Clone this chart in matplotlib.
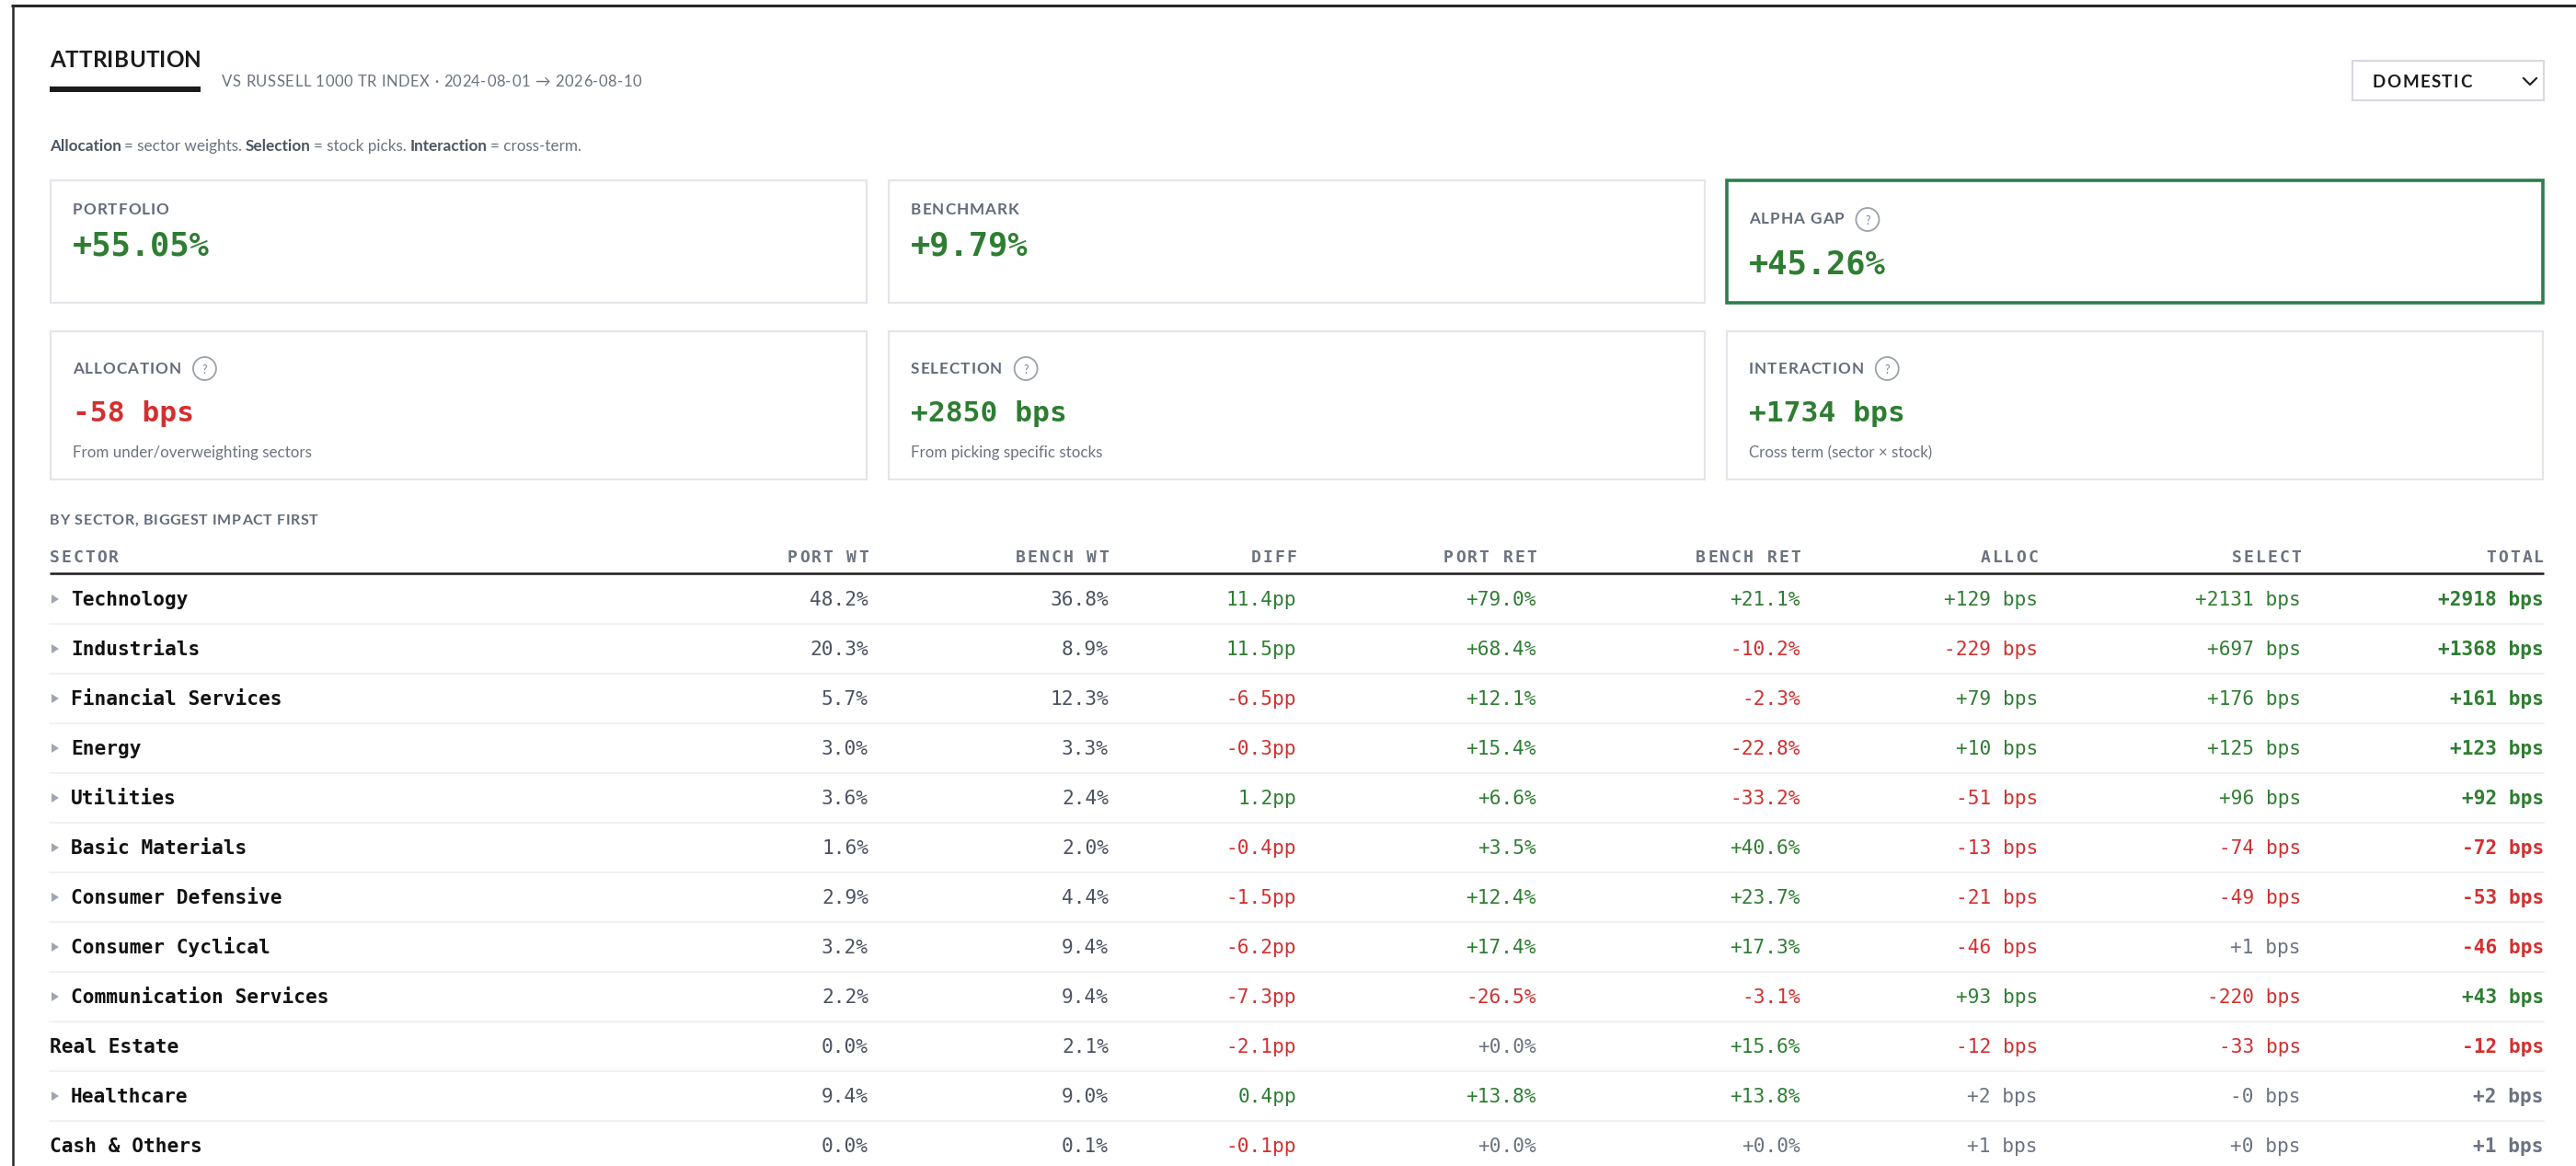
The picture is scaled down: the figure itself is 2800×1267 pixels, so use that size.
import matplotlib
matplotlib.use("Agg")
import matplotlib.pyplot as plt
from matplotlib.patches import Rectangle, Circle, Polygon
from matplotlib.font_manager import FontProperties, findfont
from matplotlib.ft2font import FT2Font

# ---- data ----
sectors = ["Technology", "Industrials", "Financial Services", "Energy", "Utilities",
           "Basic Materials", "Consumer Defensive", "Consumer Cyclical",
           "Communication Services", "Real Estate", "Healthcare", "Cash & Others"]
expandable = [True, True, True, True, True, True, True, True, True, False, True, False]
port_wt = [48.2, 20.3, 5.7, 3.0, 3.6, 1.6, 2.9, 3.2, 2.2, 0.0, 9.4, 0.0]
bench_wt = [36.8, 8.9, 12.3, 3.3, 2.4, 2.0, 4.4, 9.4, 9.4, 2.1, 9.0, 0.1]
diff_pp = [11.4, 11.5, -6.5, -0.3, 1.2, -0.4, -1.5, -6.2, -7.3, -2.1, 0.4, -0.1]
port_ret = [79.0, 68.4, 12.1, 15.4, 6.6, 3.5, 12.4, 17.4, -26.5, 0.0, 13.8, 0.0]
bench_ret = [21.1, -10.2, -2.3, -22.8, -33.2, 40.6, 23.7, 17.3, -3.1, 15.6, 13.8, 0.0]
alloc_bps = [129, -229, 79, 10, -51, -13, -21, -46, 93, -12, 2, 1]
select_bps = [2131, 697, 176, 125, 96, -74, -49, 1, -220, -33, -0.0, 0]
total_bps = [2918, 1368, 161, 123, 92, -72, -53, -46, 43, -12, 2, 1]

columns = ["SECTOR", "PORT WT", "BENCH WT", "DIFF", "PORT RET", "BENCH RET",
           "ALLOC", "SELECT", "TOTAL"]

return_labels = ["PORTFOLIO", "BENCHMARK", "ALPHA GAP"]
return_values = [55.05, 9.79, 45.26]
effect_labels = ["ALLOCATION", "SELECTION", "INTERACTION"]
effect_bps = [-58, 2850, 1734]
effect_notes = ["From under/overweighting sectors", "From picking specific stocks",
                "Cross term (sector \u00d7 stock)"]

# ---- style ----
DPI = 100
W, H = 2800, 1267
SANS = "Lato"
MONO = "DejaVu Sans Mono"
GREEN = "#2e7d32"
RED = "#d32f2f"
NEUTRAL = "#6b7280"
WT = "#4b5262"
LABEL = "#626a7a"
BORDER = "#e3e5ea"
INK = "#1b1b1b"

fig = plt.figure(figsize=(W / DPI, H / DPI), dpi=DPI)
ax = fig.add_axes([0, 0, 1, 1])
ax.set_xlim(0, W)
ax.set_ylim(H, 0)
ax.axis("off")

_ft = {}


def adv(s, family=SANS, weight="normal", size=10):
    """Sum of glyph advances in pixels."""
    total = 0.0
    for c in s:
        for fam in (family, "DejaVu Sans"):
            key = (fam, weight)
            if key not in _ft:
                _ft[key] = FT2Font(findfont(FontProperties(family=fam, weight=weight)))
            f = _ft[key]
            if f.get_char_index(ord(c)):
                f.set_size(size, 72)
                total += f.load_char(ord(c)).linearHoriAdvance / 65536
                break
    return total * DPI / 72


def put(x, y, s, size, color, family=SANS, weight="normal", ha="left", track=0.0):
    fam = [family, "DejaVu Sans"]
    if not track:
        ax.text(x, y, s, fontsize=size, color=color, family=fam, fontweight=weight,
                ha=ha, va="baseline")
        return x + adv(s, family, weight, size)
    widths = [adv(c, family, weight, size) for c in s]
    total = sum(widths) + track * (len(s) - 1)
    if ha == "right":
        x -= total
    pen = x
    for c, w in zip(s, widths):
        if c != " ":
            ax.text(pen, y, c, fontsize=size, color=color, family=fam,
                    fontweight=weight, ha="left", va="baseline")
        pen += w + track
    return pen - track


def qmark(cx, cy):
    ax.add_patch(Circle((cx, cy), 12.5, fill=False, ec="#9aa1ad", lw=1.3))
    ax.text(cx, cy + 1, "?", fontsize=9, color="#7b8190", ha="center", va="center",
            family=SANS)


# ---- frame ----
ax.plot([12, W], [5.5, 5.5], color="#2a2a2a", lw=2.2, solid_capstyle="butt")
ax.plot([13.5, 13.5], [5, H], color="#2a2a2a", lw=1.8, solid_capstyle="butt")

# ---- header ----
put(54, 73, "ATTRIBUTION", 17.5, INK, weight="bold", track=0.2)
ax.add_patch(Rectangle((54, 94), 164, 6, color=INK, lw=0))
put(241, 94, "VS RUSSELL 1000 TR INDEX \u00b7 2024-08-01 \u2192 2026-08-10", 12, NEUTRAL,
    track=0.5)

ax.add_patch(Rectangle((2557, 66), 208, 43, fill=False, ec="#d7d9df", lw=1.5))
put(2579, 95, "DOMESTIC", 13.5, INK, weight="bold", track=1.4)
ax.plot([2743, 2750, 2757], [85, 92, 85], color=INK, lw=1.5)

pen = 54
NOTE_FS = 12.3
for part, bold in [("Allocation", True), (" = sector weights. ", False),
                   ("Selection", True), (" = stock picks. ", False),
                   ("Interaction", True), (" = cross-term.", False)]:
    wt = "bold" if bold else "normal"
    lead = len(part) - len(part.lstrip())
    pen += adv(part[:lead], SANS, wt, NOTE_FS)
    put(pen, 164, part.strip(), NOTE_FS, "#4b5563" if bold else NEUTRAL, weight=wt)
    pen += adv(part[lead:], SANS, wt, NOTE_FS)

# ---- summary cards ----
card_x = [55, 966, 1877]
card_w = 887
for i in range(3):
    x = card_x[i]
    alpha = return_labels[i] == "ALPHA GAP"
    ax.add_patch(Rectangle((x, 196), card_w, 133, fill=False,
                           ec="#2e7d4f" if alpha else BORDER, lw=2.6 if alpha else 1.5))
    dy = 10 if alpha else 0
    end = put(x + 24, 233 + dy, return_labels[i], 12.3, LABEL, weight="bold", track=1.0)
    if alpha:
        qmark(end + 26, 238.5)
    v = return_values[i]
    put(x + 24, 278 + (19 if alpha else 0), f"{v:+.2f}%", 25.5,
        GREEN if v >= 0 else RED, family=MONO, weight="bold")

for i in range(3):
    x = card_x[i]
    ax.add_patch(Rectangle((x, 360), card_w, 161, fill=False, ec=BORDER, lw=1.5))
    end = put(x + 24, 406, effect_labels[i], 12.3, LABEL, weight="bold", track=1.0)
    qmark(end + 26, 400.5)
    v = effect_bps[i]
    put(x + 24, 458, f"{v:+d} bps", 22.5, GREEN if v >= 0 else RED,
        family=MONO, weight="bold")
    put(x + 24, 497, effect_notes[i], 12.2, NEUTRAL)

# ---- sector table ----
put(54, 570, "BY SECTOR, BIGGEST IMPACT FIRST", 11.5, LABEL, weight="bold", track=0.7)

col_right = [944, 1205, 1409, 1670, 1957, 2215, 2501, 2765]
put(54, 611, columns[0], 13, NEUTRAL, family=MONO, weight="bold", track=2.0)
for name, xr in zip(columns[1:], col_right):
    put(xr, 611, name, 13, NEUTRAL, family=MONO, weight="bold", ha="right", track=2.0)
ax.plot([54, 2765], [623, 623], color=INK, lw=1.8, solid_capstyle="butt")

ROW_TOP, ROW_H = 624, 54


def sign_color(v, neutral_band=0.0):
    if abs(v) <= neutral_band:
        return NEUTRAL
    return GREEN if v > 0 else RED


TS = 15.2
for i, name in enumerate(sectors):
    base = 658 + ROW_H * i
    mid = ROW_TOP + ROW_H * (i + 0.5)
    if i < len(sectors) - 1:
        ax.plot([54, 2765], [ROW_TOP + ROW_H * (i + 1)] * 2, color="#efeff1", lw=1.2)
    if expandable[i]:
        ax.add_patch(Polygon([[56, mid - 5], [56, mid + 5], [64, mid]],
                             closed=True, color="#a0a6b0", lw=0))
        put(77, base, name, TS, "#111111", family=MONO, weight="bold")
    else:
        put(54, base, name, TS, "#111111", family=MONO, weight="bold")

    cells = [
        (f"{port_wt[i]:.1f}%", WT, "normal"),
        (f"{bench_wt[i]:.1f}%", WT, "normal"),
        (f"{diff_pp[i]:.1f}pp", sign_color(diff_pp[i]), "normal"),
        (f"{port_ret[i]:+.1f}%", sign_color(port_ret[i]), "normal"),
        (f"{bench_ret[i]:+.1f}%", sign_color(bench_ret[i]), "normal"),
        (f"{alloc_bps[i]:+.0f} bps", sign_color(alloc_bps[i], 4), "normal"),
        (f"{select_bps[i]:+.0f} bps", sign_color(select_bps[i], 4), "normal"),
        (f"{total_bps[i]:+.0f} bps", sign_color(total_bps[i], 4), "bold"),
    ]
    for (txt, col, wt), xr in zip(cells, col_right):
        put(xr, base, txt, TS, col, family=MONO, weight=wt, ha="right")

fig.savefig("out.png", dpi=DPI, facecolor="white")
